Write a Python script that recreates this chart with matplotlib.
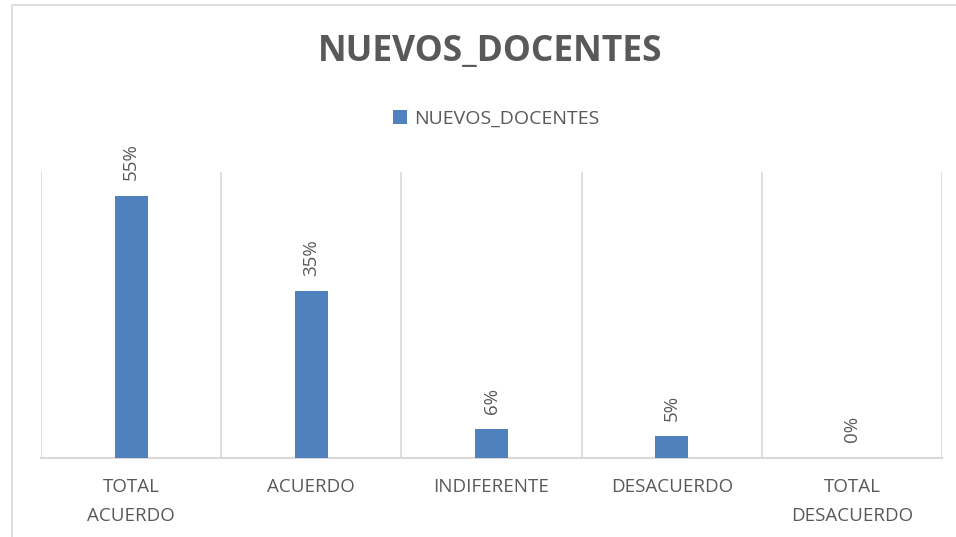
import numpy as np
import matplotlib.pyplot as plt
from matplotlib.patches import Rectangle

categorias = ["TOTAL\nACUERDO", "ACUERDO", "INDIFERENTE", "DESACUERDO", "TOTAL\nDESACUERDO"]
valores = [0.55, 0.35, 0.06, 0.045, 0.0]
etiquetas = ["55%", "35%", "6%", "5%", "0%"]
serie = "NUEVOS_DOCENTES"
titulo = "NUEVOS_DOCENTES"

AZUL = "#4f81bd"
GRIS = "#595959"
GRID = "#d9d9d9"

plt.rcParams["font.family"] = ["Open Sans", "DejaVu Sans"]

fig = plt.figure(figsize=(9.56, 5.37), dpi=100)
ax = fig.add_axes([0.0429, 0.148, 0.9425, 0.532])

x = np.arange(len(categorias))
barras = ax.bar(x, valores, width=0.183, color=AZUL, label=serie, zorder=3)

for xi, v, t in zip(x, valores, etiquetas):
    ax.annotate(t, (xi, v), xytext=(0, 11), textcoords="offset points",
                rotation=90, ha="center", va="bottom", fontsize=13.5, color=GRIS)

ax.set_xlim(-0.5, len(categorias) - 0.5)
ax.set_ylim(0, 0.6)
ax.set_yticks([])
ax.set_xticks(x)
ax.set_xticklabels(categorias, fontsize=13.5, color=GRIS, linespacing=1.75)
ax.tick_params(axis="x", length=0, pad=15)

# lineas verticales entre categorias
for b in np.arange(-0.5, len(categorias), 1.0):
    ax.axvline(b, color=GRID, lw=1.2, zorder=1)

for s in ["top", "right", "left"]:
    ax.spines[s].set_visible(False)
ax.spines["bottom"].set_color(GRID)
ax.spines["bottom"].set_linewidth(1.5)

fig.text(490 / 956, 1 - 52 / 537, titulo, ha="center", va="center",
         fontsize=25.5, fontweight="bold", color=GRIS)

fig.legend(handles=[barras], labels=[serie], loc="center",
           bbox_to_anchor=(496 / 956, 1 - 119 / 537), frameon=False,
           fontsize=14, labelcolor=GRIS, handlelength=0.75, handleheight=0.75,
           handletextpad=0.35)

# borde del area del grafico
fig.patches.append(Rectangle((12 / 956, -0.1), 1.2, 1 - 5 / 537 + 0.1,
                             transform=fig.transFigure, fill=False,
                             edgecolor=GRID, lw=1.2))

fig.savefig("out.png", dpi=100)
